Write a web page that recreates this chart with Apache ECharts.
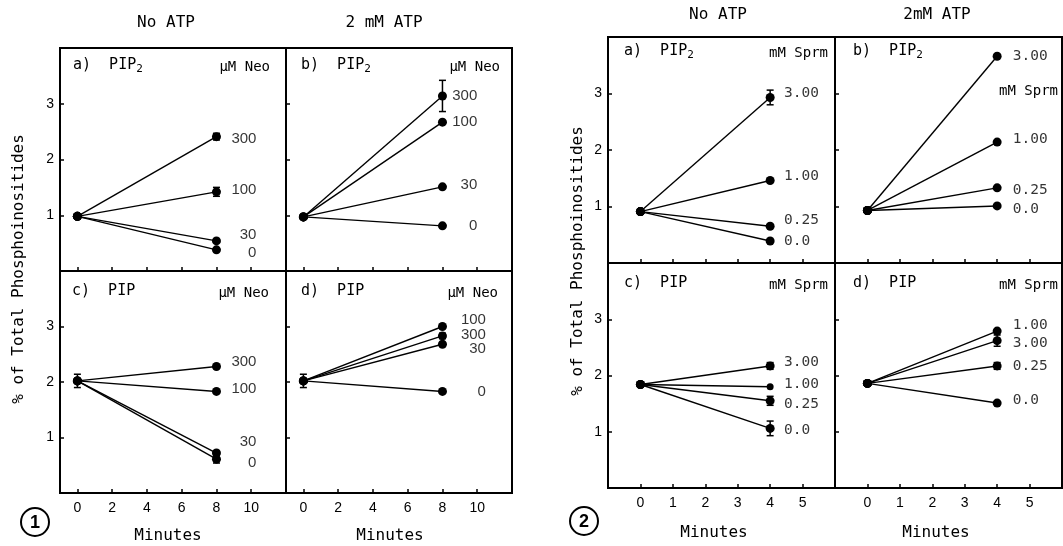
<!DOCTYPE html>
<html>
<head>
<meta charset="utf-8">
<script src="https://cdn.jsdelivr.net/npm/echarts@6.0.0/dist/echarts.min.js"></script>
<style>
  html, body { margin: 0; background: #fff; }
  #chart { width: 1063px; height: 546px; }
</style>
</head>
<body>
<div id="chart"></div>
<script>
// Fig. 1: neomycin, minutes 0 -> 8
const neoConc = ['300', '100', '30', '0']
const neoTime = [0, 8]
const neoTicks = [0, 2, 4, 6, 8, 10]
const pip2NoAtpNeoStart = 0.98
const pip2NoAtpNeo = [2.41, 1.42, 0.54, 0.38]
const pip2NoAtpNeoErr = [0.06, 0.08, 0, 0]
const pip2AtpNeoStart = 0.97
const pip2AtpNeo = [3.14, 2.67, 1.51, 0.81]
const pip2AtpNeoErr = [0.28, 0, 0, 0]
const pipNoAtpNeoStart = 2.02
const pipNoAtpNeoStartErr = 0.12
const pipNoAtpNeo = [2.28, 1.83, 0.72, 0.61]
const pipNoAtpNeoErr = [0, 0, 0, 0.07]
const pipAtpNeoStart = 2.02
const pipAtpNeoStartErr = 0.12
const pipAtpNeo = [2.83, 3.00, 2.68, 1.83]
const pipAtpNeoErr = [0.05, 0, 0, 0]

// Fig. 2: spermine, minutes 0 -> 4
const sprmConc = ['3.00', '1.00', '0.25', '0.0']
const sprmTime = [0, 4]
const sprmTicks = [0, 1, 2, 3, 4, 5]
const pip2NoAtpSprmStart = 0.91
const pip2NoAtpSprm = [2.93, 1.46, 0.65, 0.39]
const pip2NoAtpSprmErr = [0.13, 0, 0, 0]
const pip2AtpSprmStart = 0.93
const pip2AtpSprm = [3.66, 2.14, 1.33, 1.01]
const pip2AtpSprmErr = [0, 0, 0, 0]
const pipNoAtpSprmStart = 1.84
const pipNoAtpSprm = [2.17, 1.80, 1.55, 1.06]
const pipNoAtpSprmErr = [0.06, 0, 0.08, 0.13]
const pipAtpSprmStart = 1.86
const pipAtpSprm = [2.62, 2.79, 2.17, 1.51]
const pipAtpSprmErr = [0.1, 0, 0.06, 0]

const yTicks = [1, 2, 3]
const ink = '#000'
const mono = '"DejaVu Sans Mono", monospace'
const sans = '"Liberation Sans", Arial, sans-serif'

// layout: grid boxes, label placement (pixel nudges), text corners
const panels = [
  { grid: { left: 60, top: 48, width: 226, height: 223 }, time: neoTime, ticks: neoTicks, xr: [-1, 12], conc: neoConc,
    start: pip2NoAtpNeoStart, startErr: 0, end: pip2NoAtpNeo, err: pip2NoAtpNeoErr,
    labelX: 10.3, align: 'right', nudge: [2, -2, -6, 3], tag: 'a)  PIP', sub: '2', unit: 'μM Neo', unitTop: 19,
    showX: false, showY: true, tagDx: 13, tagDy: 19, unitDx: 16 },
  { grid: { left: 286, top: 48, width: 226, height: 223 }, time: neoTime, ticks: neoTicks, xr: [-1, 12], conc: neoConc,
    start: pip2AtpNeoStart, startErr: 0, end: pip2AtpNeo, err: pip2AtpNeoErr,
    labelX: 10.0, align: 'right', nudge: [0, 0, -2, 0], tag: 'b)  PIP', sub: '2', unit: 'μM Neo', unitTop: 19,
    showX: false, showY: false, tagDx: 15, tagDy: 19, unitDx: 12 },
  { grid: { left: 60, top: 271, width: 226, height: 222 }, time: neoTime, ticks: neoTicks, xr: [-1, 12], conc: neoConc,
    start: pipNoAtpNeoStart, startErr: pipNoAtpNeoStartErr, end: pipNoAtpNeo, err: pipNoAtpNeoErr,
    labelX: 10.3, align: 'right', nudge: [-5, -3, -11, 4], tag: 'c)  PIP', sub: '', unit: 'μM Neo', unitTop: 22,
    showX: true, showY: true, tagDx: 12, tagDy: 22, unitDx: 17 },
  { grid: { left: 286, top: 271, width: 226, height: 222 }, time: neoTime, ticks: neoTicks, xr: [-1, 12], conc: neoConc,
    start: pipAtpNeoStart, startErr: pipAtpNeoStartErr, end: pipAtpNeo, err: pipAtpNeoErr,
    labelX: 10.5, align: 'right', nudge: [-1, -7, 5, 0], tag: 'd)  PIP', sub: '', unit: 'μM Neo', unitTop: 22,
    showX: true, showY: false, tagDx: 15, tagDy: 22, unitDx: 14 },
  { grid: { left: 608, top: 37, width: 227, height: 226 }, time: sprmTime, ticks: sprmTicks, xr: [-1, 6], conc: sprmConc,
    start: pip2NoAtpSprmStart, startErr: 0, end: pip2NoAtpSprm, err: pip2NoAtpSprmErr,
    labelX: 4.43, align: 'left', nudge: [-4, -4, -6, 0], tag: 'a)  PIP', sub: '2', unit: 'mM Sprm', unitTop: 16,
    showX: false, showY: true, tagDx: 16, tagDy: 16, unitDx: 7 },
  { grid: { left: 835, top: 37, width: 227, height: 226 }, time: sprmTime, ticks: sprmTicks, xr: [-1, 6], conc: sprmConc,
    start: pip2AtpSprmStart, startErr: 0, end: pip2AtpSprm, err: pip2AtpSprmErr,
    labelX: 4.48, align: 'left', nudge: [0, -3, 2, 3], tag: 'b)  PIP', sub: '2', unit: 'mM Sprm', unitTop: 54,
    showX: false, showY: false, tagDx: 18, tagDy: 16, unitDx: 4 },
  { grid: { left: 608, top: 263, width: 227, height: 225 }, time: sprmTime, ticks: sprmTicks, xr: [-1, 6], conc: sprmConc,
    start: pipNoAtpSprmStart, startErr: 0, end: pipNoAtpSprm, err: pipNoAtpSprmErr,
    labelX: 4.43, align: 'left', nudge: [-4, -3, 3, 2], tag: 'c)  PIP', sub: '', unit: 'mM Sprm', unitTop: 22,
    showX: true, showY: true, tagDx: 16, tagDy: 22, unitDx: 7 },
  { grid: { left: 835, top: 263, width: 227, height: 225 }, time: sprmTime, ticks: sprmTicks, xr: [-1, 6], conc: sprmConc,
    start: pipAtpSprmStart, startErr: 0, end: pipAtpSprm, err: pipAtpSprmErr,
    labelX: 4.48, align: 'left', nudge: [3, -6, 0, -3], tag: 'd)  PIP', sub: '', unit: 'mM Sprm', unitTop: 22,
    showX: true, showY: false, tagDx: 18, tagDy: 22, unitDx: 4 }
]

const renderErrorBar = (params, api) => {
  const x = api.value(0)
  const top = api.coord([x, api.value(2)])
  const bot = api.coord([x, api.value(1)])
  const w = 3.5
  const style = { stroke: ink, lineWidth: 1.5 }
  return {
    type: 'group',
    children: [
      { type: 'line', shape: { x1: top[0], y1: top[1], x2: bot[0], y2: bot[1] }, style },
      { type: 'line', shape: { x1: top[0] - w, y1: top[1], x2: top[0] + w, y2: top[1] }, style },
      { type: 'line', shape: { x1: bot[0] - w, y1: bot[1], x2: bot[0] + w, y2: bot[1] }, style }
    ]
  }
}

const grids = [], xAxes = [], yAxes = [], series = [], graphics = []

panels.forEach((p, i) => {
  grids.push(Object.assign({ show: true, borderColor: ink, borderWidth: 2, backgroundColor: 'transparent' }, p.grid))
  xAxes.push({
    gridIndex: i, type: 'value', min: p.xr[0], max: p.xr[1],
    axisLine: { show: false, onZero: false }, splitLine: { show: false },
    axisTick: { show: true, inside: true, length: 4, customValues: p.ticks, lineStyle: { color: ink, width: 1.5 } },
    axisLabel: { show: p.showX, customValues: p.ticks, margin: 8, color: ink, fontFamily: sans, fontSize: 14 }
  })
  yAxes.push({
    gridIndex: i, type: 'value', min: 0, max: 4,
    axisLine: { show: false, onZero: false }, splitLine: { show: false },
    axisTick: { show: true, inside: true, length: 4, customValues: yTicks, lineStyle: { color: ink, width: 1.5 } },
    axisLabel: { show: p.showY, customValues: yTicks, margin: 6, color: ink, fontFamily: sans, fontSize: 14 }
  })

  p.end.forEach((v, k) => {
    series.push({
      type: 'line', xAxisIndex: i, yAxisIndex: i, silent: true,
      data: [[p.time[0], p.start], [p.time[1], v]],
      symbol: 'circle', symbolSize: (i === 6 && k === 1) ? 7 : 9,
      itemStyle: { color: ink },
      lineStyle: { color: ink, width: 1.4 }
    })
  })

  const bars = []
  if (p.startErr) bars.push([p.time[0], p.start - p.startErr, p.start + p.startErr])
  p.err.forEach((e, k) => { if (e) bars.push([p.time[1], p.end[k] - e, p.end[k] + e]) })
  if (bars.length) {
    series.push({
      type: 'custom', xAxisIndex: i, yAxisIndex: i, silent: true,
      data: bars, encode: { x: 0, y: [1, 2] }, renderItem: renderErrorBar, z: 3
    })
  }

  series.push({
    type: 'scatter', xAxisIndex: i, yAxisIndex: i, silent: true,
    symbol: 'circle', symbolSize: 1, itemStyle: { color: 'transparent' },
    data: p.end.map((v, k) => ({ value: [p.labelX, v], label: { offset: [0, p.nudge[k]] } })),
    label: {
      show: true, position: 'inside', align: p.align, verticalAlign: 'middle',
      formatter: (prm) => p.conc[prm.dataIndex],
      color: ink, fontFamily: p.align === 'right' ? sans : mono, fontSize: p.align === 'right' ? 15 : 14.5
    }
  })

  graphics.push({
    type: 'text', left: p.grid.left + p.tagDx, top: p.grid.top + p.tagDy - 9,
    style: {
      text: '{t|' + p.tag + '}' + (p.sub ? '{s|' + p.sub + '}' : ''),
      rich: {
        t: { fontFamily: mono, fontSize: 15, fill: ink, height: 18 },
        s: { fontFamily: mono, fontSize: 11, fill: ink, padding: [8, 0, 0, 0] }
      }
    }
  })
  graphics.push({
    type: 'text', x: p.grid.left + p.grid.width - p.unitDx, y: p.grid.top + p.unitTop,
    style: { text: p.unit, fontFamily: mono, fontSize: 14, fill: ink, textAlign: 'right', textVerticalAlign: 'middle' }
  })
})

// headings, axis names, figure numbers
const heads = [
  { text: 'No ATP', x: 166, y: 23 }, { text: '2 mM ATP', x: 384, y: 23 },
  { text: 'No ATP', x: 718, y: 15 }, { text: '2mM ATP', x: 937, y: 15 },
  { text: 'Minutes', x: 168, y: 536 }, { text: 'Minutes', x: 390, y: 536 },
  { text: 'Minutes', x: 714, y: 533 }, { text: 'Minutes', x: 936, y: 533 }
]
heads.forEach(h => graphics.push({
  type: 'text', x: h.x, y: h.y,
  style: { text: h.text, fontFamily: mono, fontSize: 16, fill: ink, textAlign: 'center', textVerticalAlign: 'middle' }
}))
;[{ x: 19, y: 269 }, { x: 578, y: 261 }].forEach(a => graphics.push({
  type: 'text', x: a.x, y: a.y, rotation: Math.PI / 2,
  style: { text: '% of Total Phosphoinositides', fontFamily: mono, fontSize: 16, fill: ink, textAlign: 'center', textVerticalAlign: 'middle' }
}))
;[{ n: '1', x: 35, y: 522 }, { n: '2', x: 584, y: 521 }].forEach(c => {
  graphics.push({ type: 'circle', shape: { cx: c.x, cy: c.y, r: 14 }, style: { fill: 'none', stroke: ink, lineWidth: 2 } })
  graphics.push({
    type: 'text', x: c.x, y: c.y + 1,
    style: { text: c.n, fontFamily: sans, fontWeight: 'bold', fontSize: 18, fill: ink, textAlign: 'center', textVerticalAlign: 'middle' }
  })
})

const chart = echarts.init(document.getElementById('chart'))
chart.setOption({
  animation: false,
  backgroundColor: '#fff',
  grid: grids,
  xAxis: xAxes,
  yAxis: yAxes,
  series: series,
  graphic: graphics
})
</script>
</body>
</html>
